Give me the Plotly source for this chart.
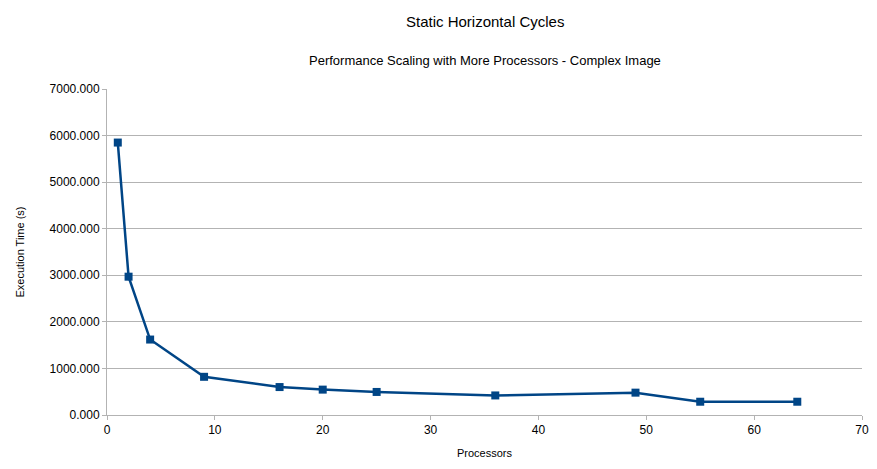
import plotly.graph_objects as go

processors = [1, 2, 4, 9, 16, 20, 25, 36, 49, 55, 64]
exec_time = [5850, 2970, 1620, 820, 600, 545, 495, 420, 480, 285, 285]

fig = go.Figure(go.Scatter(x=processors, y=exec_time, mode="lines+markers",
    line=dict(color="#004586", width=2.5),
    marker=dict(symbol="square", size=8, color="#004586")))

fig.update_layout(
    width=877, height=469, paper_bgcolor="white", plot_bgcolor="white",
    font=dict(family="Liberation Sans, Arial, sans-serif", size=12, color="black"),
    margin=dict(l=99, r=23, t=81, b=62),
    showlegend=False,
)
fig.add_annotation(text="Static Horizontal Cycles", xref="paper", yref="paper", x=0.5, y=1, yshift=78,
                   showarrow=False, font=dict(size=15))
fig.add_annotation(text="Performance Scaling with More Processors - Complex Image", xref="paper", yref="paper",
                   x=0.5, y=1, yshift=38, showarrow=False, font=dict(size=13))
fig.update_xaxes(range=[0, 70], dtick=10, showgrid=False, showline=True, linecolor="#b3b3b3",
                 ticks="outside", tickcolor="#b3b3b3", ticklen=4,
                 title=dict(text="Processors", font=dict(size=11), standoff=12))
fig.update_yaxes(range=[0, 7000], dtick=1000, tickformat=".3f", gridcolor="#b3b3b3",
                 showline=True, linecolor="#b3b3b3", zeroline=False,
                 ticks="outside", tickcolor="#b3b3b3", ticklen=4,
                 title=dict(text="Execution Time (s)", font=dict(size=11), standoff=22))
fig.write_html("out.html")
